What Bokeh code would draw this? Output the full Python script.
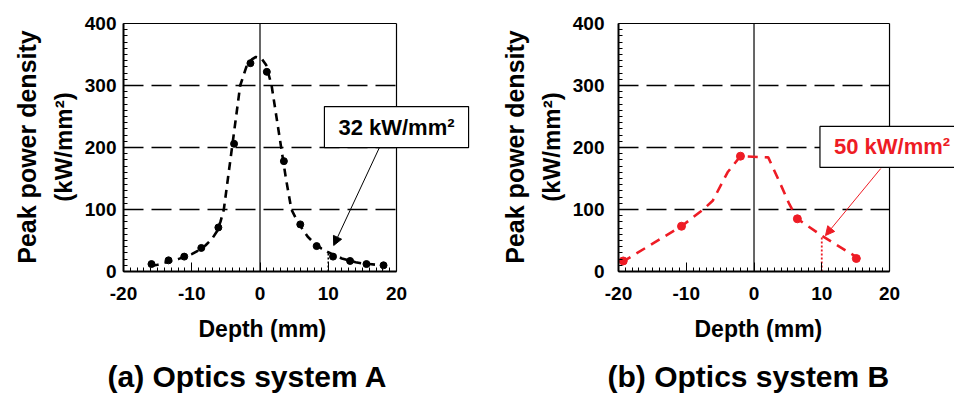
from bokeh.plotting import figure
from bokeh.models import Range1d, FixedTicker, Label, Arrow, NormalHead, Title
from bokeh.layouts import row
from bokeh.embed import file_html
from bokeh.resources import INLINE

# ---- data ----
# (a) Optics system A: measured points
a_depth = [-15.9, -13.4, -11.1, -8.6, -6.1, -3.8, -1.4, 1.0, 3.5, 5.9, 8.3, 10.7, 13.2, 15.6, 18.1]
a_power = [12, 18, 24, 38, 71, 206, 336, 322, 178, 76, 41, 24, 17, 12, 10]
# (a) dashed fit curve
a_fit_depth = [-16, -15, -14, -13, -12, -11, -10, -9, -8, -7, -6.3, -5.8, -5.3, -4.7, -4.1, -3.5,
               -2.9, -2.0, -1.2, -0.6, 0.2, 0.9, 1.7, 2.4, 3.1, 3.8, 4.6, 5.3, 6, 7, 8, 9, 10,
               11, 12, 13, 14, 15, 16, 18]
a_fit_power = [9, 11, 14, 17, 20, 24, 28, 34, 42, 53, 65, 80, 100, 150, 200, 250,
               300, 330, 342, 346, 344, 333, 300, 250, 200, 150, 100, 85, 72, 56, 45, 37, 31,
               26, 21, 18, 15, 13, 12, 10]
a_mark_depth = 10
a_mark_power = 32
a_label = "32 kW/mm\u00b2"

# (b) Optics system B: measured points
b_depth = [-19.3, -10.7, -2.0, 6.4, 15.1]
b_power = [17, 73, 186, 85, 21]
b_fit_depth = [-19.5, -10.7, -7.5, -6.1, -3.9, -2.0, 2.1, 3.7, 5.2, 6.4, 10.1, 16.5]
b_fit_power = [15, 73, 100, 114, 160, 186, 184, 146, 109, 85, 57, 14]
b_mark_depth = 10
b_mark_power = 57
b_label = "50 kW/mm\u00b2"

x_ticks = [-20, -10, 0, 10, 20]
x_tick_text = {-20: "-20", -10: "-10", 0: "0", 10: "10", 20: "20"}
y_ticks = [0, 100, 200, 300, 400]
grid_y = [100, 200, 300]
x_lo, x_hi = -20, 20
y_lo, y_hi = 0, 400

FONT = "Liberation Sans"
RED = "#ee1c25"


def make_panel(title, width, border_left, x_end, tick_standoff, title_offset,
               xlab_offset, lab_standoff):
    # the frame extends past x=20 so that the call-out box is not clipped;
    # the visible plot box is drawn from the axis bounds and segments.
    p = figure(output_backend="svg", toolbar_location=None,
               width=width, height=395,
               min_border_left=border_left, min_border_right=0,
               min_border_top=22, min_border_bottom=124,
               x_range=Range1d(x_lo, x_end), y_range=Range1d(y_lo, 401.6),
               background_fill_color="white", border_fill_color="white")
    p.outline_line_color = None
    p.grid.visible = False
    for ax in (p.xaxis[0], p.yaxis[0]):
        ax.axis_line_width = 2
        ax.axis_line_color = "black"
        ax.major_tick_in = 9
        ax.major_tick_out = 0
        ax.minor_tick_in = 4
        ax.minor_tick_out = 0
        ax.major_tick_line_color = "black"
        ax.minor_tick_line_color = "black"
        ax.major_label_text_font = FONT
        ax.major_label_text_font_style = "bold"
        ax.major_label_text_font_size = "19px"
        ax.major_label_text_color = "black"
    p.xaxis.bounds = (x_lo, x_hi)
    p.yaxis.bounds = (y_lo, y_hi)
    p.xaxis.ticker = FixedTicker(ticks=x_ticks, minor_ticks=list(range(-20, 21, 1)))
    p.xaxis.major_label_overrides = x_tick_text
    p.yaxis.ticker = FixedTicker(ticks=y_ticks, minor_ticks=list(range(0, 401, 10)))
    p.xaxis.major_label_standoff = 15
    p.yaxis.major_label_standoff = tick_standoff

    # y-axis title as two lines
    t2 = Title(text="(kW/mm\u00b2)", align="center", text_font=FONT, text_font_style="bold",
               text_font_size="24px", text_color="black", standoff=lab_standoff)
    p.add_layout(t2, "left")
    t1 = Title(text="Peak power density", align="center", text_font=FONT,
               text_font_style="bold", text_font_size="25px", text_color="black", standoff=4)
    p.add_layout(t1, "left")

    # x-axis title, placed over the -20..20 span
    tx = Title(text="Depth (mm)", align="left", offset=xlab_offset, vertical_align="top",
               text_font=FONT, text_font_style="bold", text_font_size="23px",
               text_color="black", standoff=27)
    p.add_layout(tx, "below")

    # dashed horizontal grid lines, zero line, top and right edges of the box
    n = len(grid_y)
    p.segment(x0=[x_lo] * n, y0=grid_y, x1=[x_hi] * n, y1=grid_y,
              line_color="black", line_width=1.3, line_dash="20 8")
    p.segment(x0=[0, x_hi, x_lo], y0=[y_lo, y_lo, y_hi], x1=[0, x_hi, x_hi],
              y1=[y_hi, y_hi, y_hi], line_color="black", line_width=1.2)

    t = Title(text=title, align="left", offset=title_offset, text_font=FONT,
              text_font_style="bold", text_font_size="30px", text_color="black", standoff=0)
    p.add_layout(t, "below")
    return p


# ---------- (a) ----------
pa = make_panel("(a) Optics system A", 485, 123, 33.04, 7, -16, 75, 10)
pa.line(a_fit_depth, a_fit_power, line_color="black", line_width=2.6, line_dash="8 6")
pa.scatter(a_depth, a_power, size=7, color="black")
pa.line([a_mark_depth, a_mark_depth], [0, a_mark_power], line_color="black",
        line_width=1.5, line_dash="2 2")
pa.add_layout(Label(x=20.0, y=233, text=a_label, text_font=FONT, text_font_style="bold",
                    text_font_size="22px", text_color="black", text_align="center",
                    text_baseline="middle", background_fill_color="white",
                    border_line_color="black", border_line_width=1.2, padding=(14, 8)))
pa.add_layout(Arrow(end=NormalHead(size=9, fill_color="black", line_color="black"),
                    x_start=17.5, y_start=200, x_end=10.8, y_end=42,
                    line_color="black", line_width=1))

# ---------- (b) ----------
pb = make_panel("(b) Optics system B", 469, 133, 29.59, 14, -11, 76, 10)
pb.line(b_fit_depth, b_fit_power, line_color=RED, line_width=2.6, line_dash="10 7")
pb.scatter(b_depth, b_power, size=8, color=RED)
pb.line([b_mark_depth, b_mark_depth], [0, b_mark_power], line_color=RED,
        line_width=1.8, line_dash="2 2")
pb.add_layout(Label(x=20.37, y=201, text=b_label, text_font=FONT, text_font_style="bold",
                    text_font_size="22px", text_color=RED, text_align="center",
                    text_baseline="middle", background_fill_color="white",
                    border_line_color="black", border_line_width=1.2, padding=(14, 8)))
pb.add_layout(Arrow(end=NormalHead(size=9, fill_color=RED, line_color=RED),
                    x_start=18.7, y_start=166, x_end=10.55, y_end=58,
                    line_color=RED, line_width=1))

layout = row(pa, pb)
open("out.html", "w").write(file_html(layout, INLINE))
